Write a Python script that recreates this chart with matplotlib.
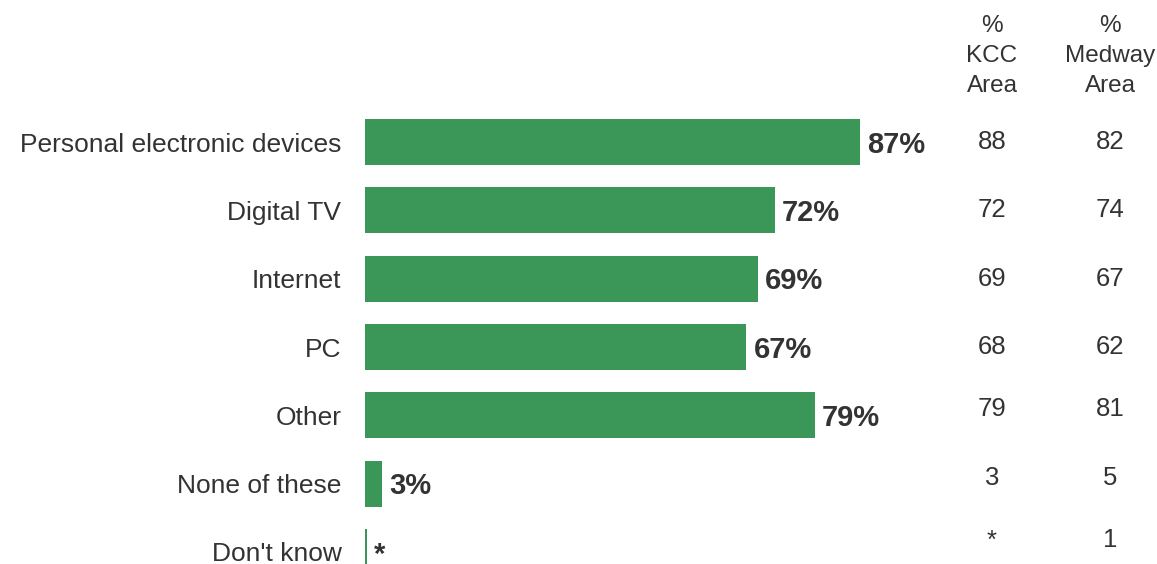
import matplotlib
matplotlib.use("Agg")
import matplotlib.pyplot as plt
from matplotlib.transforms import blended_transform_factory

categories = ["Personal electronic devices", "Digital TV", "Internet", "PC",
              "Other", "None of these", "Don't know"]
overall = [87, 72, 69, 67, 79, 3, 0.3]
overall_labels = ["87%", "72%", "69%", "67%", "79%", "3%", "*"]
kcc = ["88", "72", "69", "68", "79", "3", "*"]
medway = ["82", "74", "67", "62", "81", "5", "1"]

# small upward drift of the table figures in the original
table_shift = [0, 0, 0, 0, 0.09, 0.09, 0.17]

plt.rcParams["font.family"] = ["Liberation Sans", "DejaVu Sans"]
text_col = "#333333"
bar_col = "#3b9758"

fig = plt.figure(figsize=(11.57, 5.64), dpi=100)
ax = fig.add_axes([365 / 1157, 0, 569 / 1157, 1])

rows = list(range(len(categories)))
ax.barh(rows, overall, height=0.67, color=bar_col)
ax.set_xlim(0, 100)
ax.set_ylim(6 + 12 / 68.33, -142 / 68.33)

for r, v, lab in zip(rows, overall, overall_labels):
    ax.text(v + 1.3, r + 0.04, lab, ha="left", va="center", fontsize=21,
            fontweight="bold", color=text_col)

ax.set_yticks(rows)
ax.set_yticklabels(categories, fontsize=19, color=text_col)
ax.tick_params(axis="y", length=0, pad=17)
ax.set_xticks([])
for s in ax.spines.values():
    s.set_visible(False)

# side table, x in figure fraction, y in rows
tr = blended_transform_factory(fig.transFigure, ax.transData)
for r, k, m, d in zip(rows, kcc, medway, table_shift):
    ax.text(992 / 1157, r - d, k, transform=tr, fontsize=18.5,
            color=text_col, ha="center", va="center")
    ax.text(1110 / 1157, r - d, m, transform=tr, fontsize=18.5,
            color=text_col, ha="center", va="center")

fig.text(992 / 1157, 1 - 56 / 564, "%\nKCC\nArea", ha="center", va="center",
         fontsize=17.5, color=text_col, linespacing=1.45)
fig.text(1110 / 1157, 1 - 56 / 564, "%\nMedway\nArea", ha="center", va="center",
         fontsize=17.5, color=text_col, linespacing=1.45)

fig.savefig("out.png", dpi=100)
